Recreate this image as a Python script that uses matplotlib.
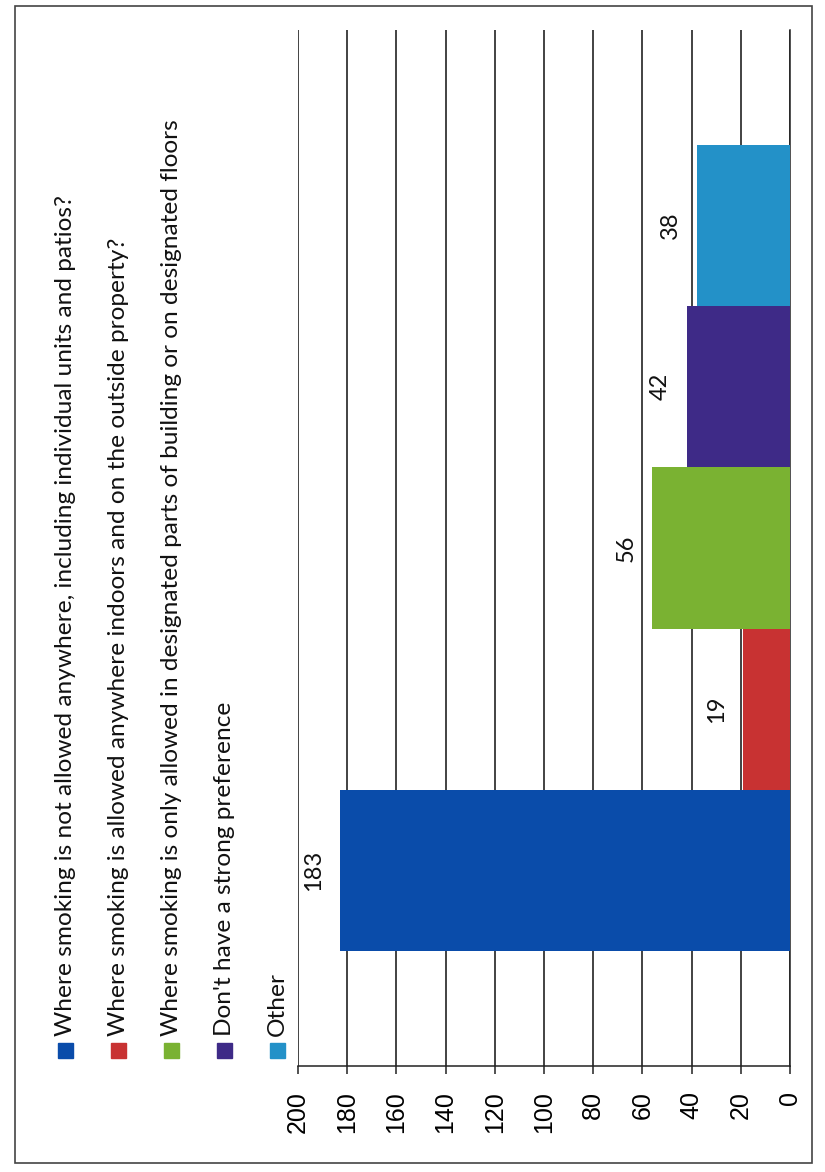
import matplotlib.pyplot as plt
from matplotlib.patches import Rectangle

# survey answers: preferred smoking policy
respuestas = [
    "Where smoking is not allowed anywhere, including individual units and patios?",
    "Where smoking is allowed anywhere indoors and on the outside property?",
    "Where smoking is only allowed in designated parts of building or on designated floors",
    "Don't have a strong preference",
    "Other",
]
conteos = [183, 19, 56, 42, 38]
colores = ["#0A4CAA", "#C83232", "#7AB232", "#3E2A87", "#2391C8"]
ticks = [0, 20, 40, 60, 80, 100, 120, 140, 160, 180, 200]

W, H = 825, 1172
fig = plt.figure(figsize=(W / 100, H / 100), dpi=100)

# chart is laid out sideways: values run right -> left, text reads bottom -> top
ax = fig.add_axes([298 / W, 1 - 1066 / H, (790 - 298) / W, (1066 - 30) / H])

for i, (v, c) in enumerate(zip(conteos, colores)):
    ax.barh(i, v, height=1.0, color=c, zorder=3)
    ax.annotate(
        str(v), xy=(v, i), xytext=(-19, 0), textcoords="offset points",
        rotation=90, ha="center", va="center", fontsize=17,
        family="Lato", color="#111111", zorder=4,
    )

ax.set_xlim(200, 0)
ax.set_ylim(-0.5 - 0.71, len(conteos) - 0.5 + 0.71)
ax.set_xticks(ticks)
ax.set_xticklabels([str(t) for t in ticks], rotation=90, fontsize=18,
                   family="Liberation Sans")
ax.set_yticks([])
ax.tick_params(axis="x", direction="out", length=6, width=1.1, pad=12,
               color="#222222")
ax.grid(axis="x", color="#222222", linewidth=1.2, zorder=0)
for lado in ["top", "left"]:
    ax.spines[lado].set_visible(False)
ax.spines["bottom"].set_color("#222222")
ax.spines["right"].set_color("#222222")
ax.spines["bottom"].set_linewidth(1.1)
ax.spines["right"].set_linewidth(1.1)

# legend drawn by hand, rotated with the chart
for i, (txt, c) in enumerate(zip(respuestas, colores)):
    xc = 65.5 + i * 53
    fig.patches.append(Rectangle(((xc - 7.5) / W, 1 - 1058 / H), 15 / W, 15 / H,
                                 transform=fig.transFigure, color=c))
    fig.text(xc / W, 1 - 1036 / H, txt, rotation=90, ha="center", va="bottom",
             fontsize=17.6, family="Lato", color="#111111")

# outer frame
fig.patches.append(Rectangle((15 / W, 1 - 1163 / H), (812 - 15) / W, (1163 - 6) / H,
                             transform=fig.transFigure, fill=False,
                             edgecolor="#444444", linewidth=1.2))

fig.savefig("out.png", dpi=100, facecolor="white")
